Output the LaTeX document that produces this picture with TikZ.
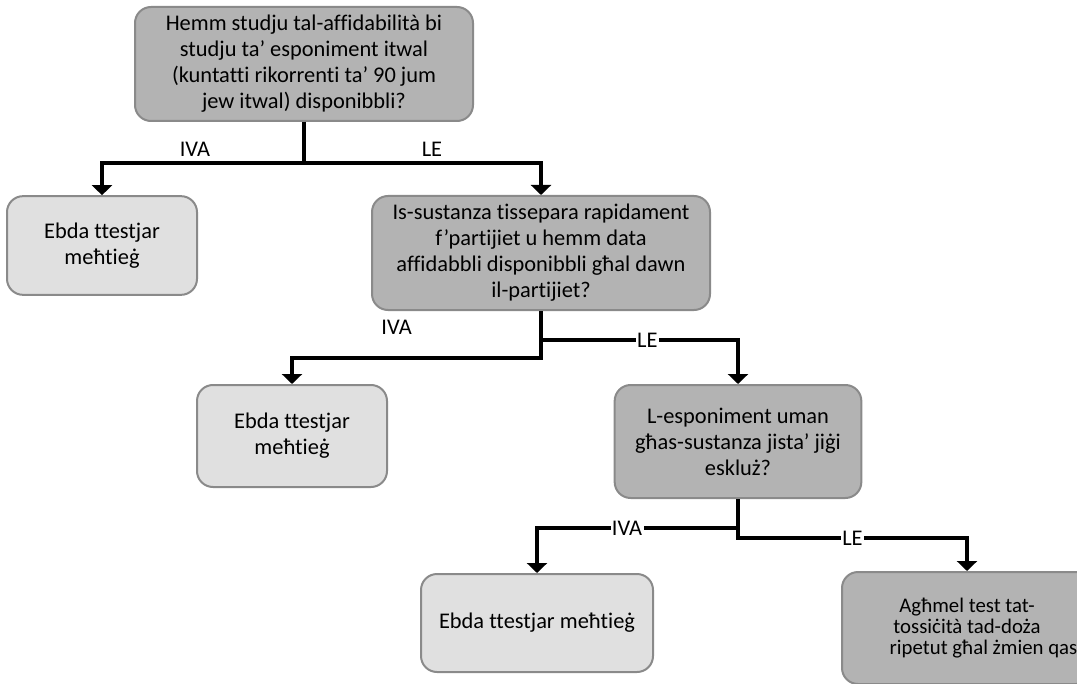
\documentclass[tikz,border=0pt]{standalone}
\usepackage{fontspec}
\newfontfamily\boxfont{Carlito}[Ligatures={NoCommon}]
\usetikzlibrary{arrows.meta}
\definecolor{QFill}{RGB}{179,179,179}
\definecolor{AFill}{RGB}{224,224,224}
\definecolor{BoxEdge}{RGB}{138,138,138}

\begin{document}
\begin{tikzpicture}[x=0.75pt,y=-0.75pt,
  qbox/.style={draw=BoxEdge,line width=1.5pt,fill=QFill,rounded corners=12pt,
    align=center,inner sep=2pt,font={\boxfont\fontsize{16.8}{19.5}\selectfont}},
  abox/.style={qbox,fill=AFill},
  flow/.style={line width=3pt,-{Triangle[length=7.5pt,width=15pt]}},
  lbl/.style={font={\boxfont\fontsize{16.8}{19.5}\selectfont},inner sep=1pt},
  onlbl/.style={lbl,fill=white}]
\path[use as bounding box,clip] (0,0) rectangle (1077,684);

\node[qbox,minimum width=253.5pt,minimum height=85.5pt] (q1) at (304,64)
  {Hemm studju tal-affidabilità bi\\studju ta’ esponiment itwal\\(kuntatti rikorrenti ta’ 90 jum\\jew itwal) disponibbli?};
\node[abox,minimum width=142.5pt,minimum height=74pt] (n1) at (102,245.5)
  {Ebda ttestjar\\meħtieġ};
\node[qbox,minimum width=253.5pt,minimum height=85.5pt] (q2) at (541,253)
  {Is-sustanza tissepara rapidament\\f’partijiet u hemm data\\affidabbli disponibbli għal dawn\\il-partijiet?};
\node[abox,minimum width=142.5pt,minimum height=76.5pt] (n2) at (292,436)
  {Ebda ttestjar\\meħtieġ};
\node[qbox,minimum width=185pt,minimum height=84.75pt] (q3) at (738,441.5)
  {L-esponiment uman\\għas-sustanza jista’ jiġi\\eskluż?};
\node[abox,minimum width=174pt,minimum height=73.5pt] (n3) at (537,623)
  {Ebda ttestjar meħtieġ};
\node[qbox,minimum width=187.5pt,minimum height=84pt,
  font={\boxfont\fontsize{15.6}{15.75}\selectfont}] (n4) at (967,628)
  {Agħmel test tat-\\tossiċità tad-doża\\\makebox[0pt][l]{\hspace*{-58pt}ripetut għal żmien qasir}};

\draw[flow] (q1.south) -- ++(0,41) -| node[lbl,pos=0.27,above=2pt] (y1) {IVA} (n1.north);
\draw[flow] (q1.south) -- ++(0,41) -| node[lbl,pos=0.27,above=2pt] (x1) {LE} (q2.north);

\draw[flow] (q2.south) -- ++(0,47) -| node[lbl,pos=0.29,above=15pt] (y2) {IVA} (n2.north);
\draw[flow] (q2.south) -- ++(0,29) -| node[onlbl,pos=0.27] (x2) {LE} (q3.north);

\draw[flow] (q3.south) -- ++(0,29) -| node[onlbl,pos=0.276] (y3) {IVA} (n3.north);
\draw[flow] (q3.south) -- ++(0,39) -| node[onlbl,pos=0.25] (x3) {LE} (n4.north);

\end{tikzpicture}
\end{document}
